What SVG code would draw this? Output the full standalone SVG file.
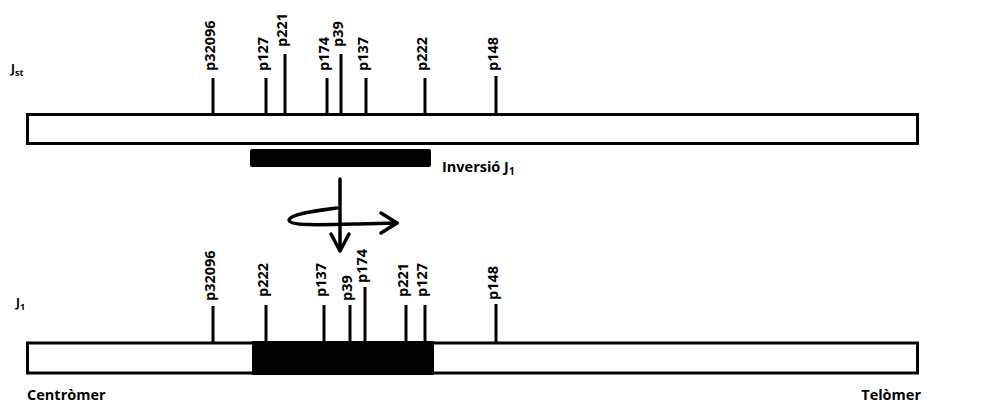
<svg xmlns="http://www.w3.org/2000/svg" width="995" height="405" viewBox="0 0 995 405">
<style>
text{font-family:"Open Sans","Liberation Sans",sans-serif;font-weight:700;fill:#000}
.lbl{font-size:14.5px}
.tk{stroke:#000;stroke-width:3;fill:none}
.ar{stroke:#000;stroke-width:3.5;fill:none;stroke-linecap:round;stroke-linejoin:round}
.chr{fill:#fff;stroke:#000;stroke-width:3}
.lab{font-size:12px}
.big{font-size:14.5px}
</style>
<rect width="995" height="405" fill="#fff"/>
<g id="chromosome-jst">
<rect class="chr" x="27.5" y="114.5" width="890" height="29"/>
<text class="lab" x="11" y="73">J<tspan font-size="9" dy="3">st</tspan></text>
</g>
<g id="markers-jst">
<line class="tk" x1="213" y1="78" x2="213" y2="114"/>
<text class="lbl" transform="translate(215,71) rotate(-90)">p32096</text>
<line class="tk" x1="266" y1="78" x2="266" y2="114"/>
<text class="lbl" transform="translate(268,71) rotate(-90)">p127</text>
<line class="tk" x1="285" y1="54" x2="285" y2="114"/>
<text class="lbl" transform="translate(287,47) rotate(-90)">p221</text>
<line class="tk" x1="327" y1="78" x2="327" y2="114"/>
<text class="lbl" transform="translate(329,71) rotate(-90)">p174</text>
<line class="tk" x1="341" y1="54" x2="341" y2="114"/>
<text class="lbl" transform="translate(343,47) rotate(-90)">p39</text>
<line class="tk" x1="366" y1="78" x2="366" y2="114"/>
<text class="lbl" transform="translate(368,71) rotate(-90)">p137</text>
<line class="tk" x1="425" y1="78" x2="425" y2="114"/>
<text class="lbl" transform="translate(427,71) rotate(-90)">p222</text>
<line class="tk" x1="496" y1="76" x2="496" y2="114"/>
<text class="lbl" transform="translate(498,71) rotate(-90)">p148</text>
</g>
<g id="inversion">
<rect x="250" y="149" width="181" height="18" rx="2" fill="#000"/>
<text class="big" x="442" y="172">Inversió J<tspan font-size="10" dy="3">1</tspan></text>
</g>
<g id="connectors">
<line class="ar" x1="340" y1="179" x2="340" y2="250"/>
<polyline class="ar" points="331,234 340,251 349,234"/>
<path class="ar" d="M337,208 C315,211 290,214 289,220 C289,226 320,225 358,224 L397,223"/>
<polyline class="ar" points="381,213 397,223 381,233"/>
</g>
<g id="chromosome-j1">
<rect class="chr" x="27.5" y="343" width="890" height="30"/>
<rect x="252" y="341" width="182" height="34" rx="1" fill="#000"/>
<text class="lab" x="16" y="307">J<tspan font-size="9" dy="3">1</tspan></text>
</g>
<g id="markers-j1">
<line class="tk" x1="213" y1="306" x2="213" y2="343"/>
<text class="lbl" transform="translate(215,301) rotate(-90)">p32096</text>
<line class="tk" x1="266" y1="305" x2="266" y2="343"/>
<text class="lbl" transform="translate(268,297) rotate(-90)">p222</text>
<line class="tk" x1="324" y1="305" x2="324" y2="343"/>
<text class="lbl" transform="translate(326,297) rotate(-90)">p137</text>
<line class="tk" x1="350" y1="305" x2="350" y2="343"/>
<text class="lbl" transform="translate(352,301) rotate(-90)">p39</text>
<line class="tk" x1="365" y1="287" x2="365" y2="343"/>
<text class="lbl" transform="translate(367,283) rotate(-90)">p174</text>
<line class="tk" x1="406" y1="305" x2="406" y2="343"/>
<text class="lbl" transform="translate(408,297) rotate(-90)">p221</text>
<line class="tk" x1="425" y1="305" x2="425" y2="343"/>
<text class="lbl" transform="translate(427,297) rotate(-90)">p127</text>
<line class="tk" x1="496" y1="304" x2="496" y2="343"/>
<text class="lbl" transform="translate(498,300) rotate(-90)">p148</text>
</g>
<g id="ends">
<text class="big" x="27" y="400">Centròmer</text>
<text class="big" x="921" y="400" text-anchor="end">Telòmer</text>
</g>
</svg>
